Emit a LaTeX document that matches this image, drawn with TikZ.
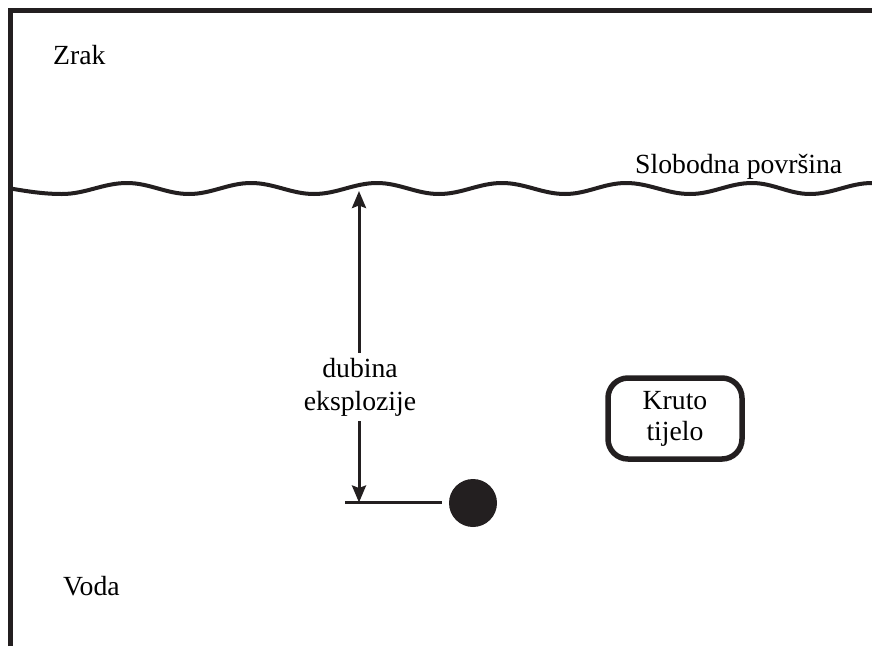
\documentclass[tikz,border=0pt]{standalone}
\usepackage{fontspec}
\setmainfont{Liberation Serif}
\usetikzlibrary{arrows.meta}
\definecolor{ink}{HTML}{231F20}
\tikzset{
  lbl/.style={inner sep=0pt, font=\fontsize{27.7}{33}\selectfont, text=black},
  frameline/.style={draw=ink, line width=5.5pt, line join=miter},
  waveline/.style={draw=ink, line width=4pt},
  dimarrow/.style={draw=ink, line width=3pt, -{Stealth[length=17pt, width=14pt, inset=2.5pt]}},
  bodybox/.style={draw=ink, line width=5.5pt, rounded corners=20pt, minimum width=134pt, minimum height=81pt, align=center, font=\fontsize{27.7}{31}\selectfont, inner sep=0pt}
}
\begin{document}
\begin{tikzpicture}[x=1pt, y=-1pt]
\useasboundingbox (0,0) rectangle (872,646);
% frame
\draw[frameline] (10.5,646) -- (10.5,10.5) -- (872,10.5);
% free surface
\draw[waveline] (10.5,188.5) sin (62,194) cos (94.5,188.5) sin (127,183) cos (158,188.5) sin (189,194)
  cos (220,188.5) sin (251,183) cos (282.5,188.5) sin (314,194) cos (345.5,188.5) sin (377,183)
  cos (408,188.5) sin (439,194) cos (470.5,188.5) sin (502,183) cos (533.5,188.5) sin (565,194)
  cos (595.5,188.5) sin (626,183) cos (658,188.5) sin (690,194) cos (721,188.5) sin (752,183)
  cos (781,188.5) sin (810,194) cos (841,188.5) sin (872,183);
% labels
\node[lbl, anchor=base west] (zrak) at (53,64) {Zrak};
\node[lbl, anchor=base west] (voda) at (63,595) {Voda};
\node[lbl, anchor=base west] (surflbl) at (635,173) {Slobodna površina};
% depth dimension
\coordinate (surf) at (359,191);
\coordinate (bot) at (359,502.5);
\coordinate (lineL) at (345,502.5);
\coordinate (lineR) at (442,502.5);
\node[circle, fill=ink, minimum size=48pt, inner sep=0pt] (charge) at (473,503) {};
\draw[draw=ink, line width=2.5pt] (lineL) -- (lineR);
\node[lbl, align=center, inner ysep=5pt] (depth) at (360,387) {dubina\\eksplozije};
\draw[dimarrow] (depth.north -| surf) -- (surf);
\draw[dimarrow] (depth.south -| bot) -- (bot);
% rigid body
\node[bodybox] (body) at (675,418.5) {Kruto\\tijelo};
\end{tikzpicture}
\end{document}
